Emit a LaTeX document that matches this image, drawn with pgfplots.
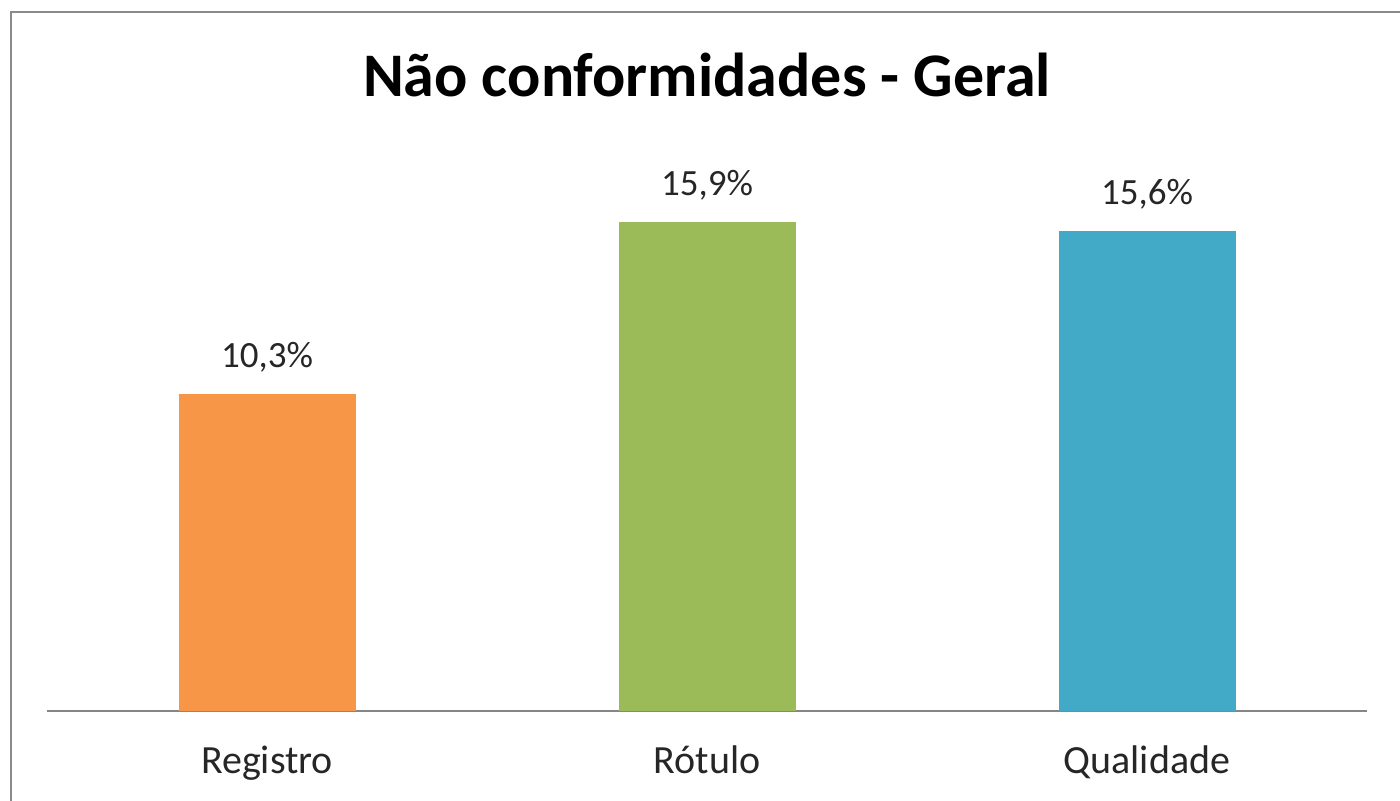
\documentclass[border=0pt]{standalone}
\usepackage{fontspec}
\setmainfont{Carlito}
\usepackage{pgfplots}
\pgfplotsset{compat=1.18}
\definecolor{cOrange}{HTML}{F79646}
\definecolor{cGreen}{HTML}{9BBB59}
\definecolor{cBlue}{HTML}{42AAC7}
\definecolor{txt}{HTML}{262626}
\definecolor{frame}{HTML}{8A8A8A}
\definecolor{axl}{HTML}{868686}
\begin{document}
\begin{tikzpicture}
\useasboundingbox (-23.5pt,-45pt) rectangle (676.5pt,355.5pt);
\draw[frame, line width=1pt] (690pt,349.5pt) -- (-18pt,349.5pt) -- (-18pt,-60pt);
\begin{axis}[
  at={(0pt,0pt)}, anchor=south west,
  scale only axis, width=660pt, height=277pt,
  xmin=-0.5, xmax=2.5, ymin=0, ymax=18,
  enlargelimits=false,
  axis x line*=bottom, hide y axis,
  x axis line style={-, draw=axl, line width=0.9pt},
  xtick={0,1,2}, xticklabels={Registro,Rótulo,Qualidade},
  major tick length=0pt,
  xticklabel style={anchor=base, yshift=-31.5pt, font=\fontsize{20}{24}\selectfont, text=txt},
  ybar, bar width=88.5pt, bar shift=0pt,
  nodes near coords={\pgfmathprintnumber[fixed,fixed zerofill,precision=1,use comma,assume math mode=true]{\pgfplotspointmeta}\%},
  nodes near coords style={anchor=base, inner sep=0pt, yshift=13pt, font=\fontsize{18.5}{22}\selectfont, text=txt},
  title={\bfseries Não conformidades - Geral},
  title style={at={(rel axis cs:0.5,1.0884)}, anchor=base, font=\fontsize{31}{36}\selectfont, text=black},
  clip=false,
]
\addplot[fill=cOrange, draw=none] coordinates {(0,10.3)};
\addplot[fill=cGreen, draw=none] coordinates {(1,15.9)};
\addplot[fill=cBlue, draw=none] coordinates {(2,15.6)};
\end{axis}
\end{tikzpicture}
\end{document}
